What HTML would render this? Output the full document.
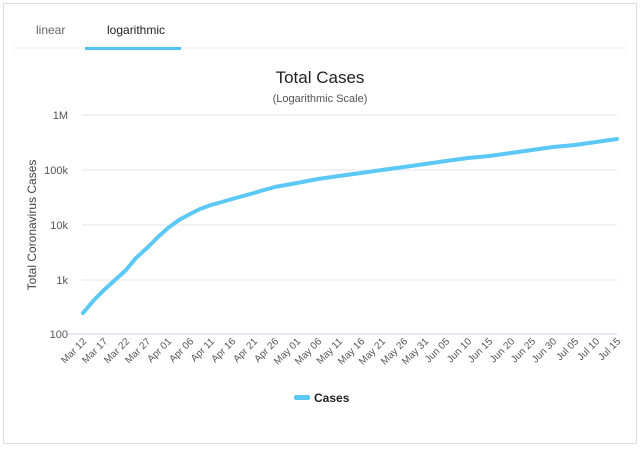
<!DOCTYPE html>
<html><head><style>
body{margin:0;background:#fff;font-family:"Liberation Sans","DejaVu Sans",sans-serif;}
</style></head><body>
<svg width="640" height="448" xmlns="http://www.w3.org/2000/svg" font-family="Liberation Sans, DejaVu Sans, sans-serif">
<rect x="3.5" y="3.5" width="633" height="440" fill="#fff" stroke="#ddd" stroke-width="1"/>
<text x="36" y="34" font-size="12" fill="#666">linear</text>
<text x="107" y="34" font-size="12" fill="#222">logarithmic</text>
<line x1="13" y1="48" x2="627" y2="48" stroke="#eee"/>
<rect x="85" y="47" width="96" height="3" fill="#4fc3f7"/>
<text x="320" y="83" font-size="17" text-anchor="middle" fill="#222">Total Cases</text>
<text x="320" y="102" font-size="11" text-anchor="middle" fill="#555">(Logarithmic Scale)</text>
<g stroke="#e6e6e6"><line x1="82" y1="115" x2="617" y2="115"/><line x1="82" y1="170" x2="617" y2="170"/><line x1="82" y1="225" x2="617" y2="225"/><line x1="82" y1="280" x2="617" y2="280"/></g>
<line x1="67" y1="334" x2="617" y2="334" stroke="#ccd6eb"/>
<g font-size="11" fill="#555" text-anchor="end"><text x="68" y="119">1M</text><text x="68" y="174">100k</text><text x="68" y="229">10k</text><text x="68" y="284">1k</text><text x="68" y="338">100</text></g>
<text transform="translate(36,225) rotate(-90)" font-size="12" fill="#444" text-anchor="middle">Total Coronavirus Cases</text>
<g font-size="10" fill="#555" text-anchor="end" id="xl"></g>
<polyline fill="none" stroke="#5bc8f5" stroke-width="4" stroke-linejoin="round" stroke-linecap="round" points="83,313 94,300 104,290 115,280 126,270 136,258 147,248 158,237 168,228 179,220 190,214 200,209 211,205 222,202 232,199 243,196 254,193 264,190 275,187 286,185 297,183 318,179 339,176 361,173 382,170 404,167 425,164 446,161 468,158 489,156 511,153 532,150 553,147 575,145 596,142 617,139"/>
<rect x="294" y="395" width="16" height="5" rx="2" fill="#5bc8f5"/>
<text x="314" y="402" font-size="12" font-weight="bold" fill="#222">Cases</text>
<g font-size="10" fill="#555" text-anchor="end">
<text transform="translate(87,342) rotate(-45)">Mar 12</text>
<text transform="translate(108,342) rotate(-45)">Mar 17</text>
<text transform="translate(130,342) rotate(-45)">Mar 22</text>
<text transform="translate(151,342) rotate(-45)">Mar 27</text>
<text transform="translate(172,342) rotate(-45)">Apr 01</text>
<text transform="translate(194,342) rotate(-45)">Apr 06</text>
<text transform="translate(215,342) rotate(-45)">Apr 11</text>
<text transform="translate(236,342) rotate(-45)">Apr 16</text>
<text transform="translate(258,342) rotate(-45)">Apr 21</text>
<text transform="translate(279,342) rotate(-45)">Apr 26</text>
<text transform="translate(301,342) rotate(-45)">May 01</text>
<text transform="translate(322,342) rotate(-45)">May 06</text>
<text transform="translate(343,342) rotate(-45)">May 11</text>
<text transform="translate(365,342) rotate(-45)">May 16</text>
<text transform="translate(386,342) rotate(-45)">May 21</text>
<text transform="translate(408,342) rotate(-45)">May 26</text>
<text transform="translate(429,342) rotate(-45)">May 31</text>
<text transform="translate(450,342) rotate(-45)">Jun 05</text>
<text transform="translate(472,342) rotate(-45)">Jun 10</text>
<text transform="translate(493,342) rotate(-45)">Jun 15</text>
<text transform="translate(515,342) rotate(-45)">Jun 20</text>
<text transform="translate(536,342) rotate(-45)">Jun 25</text>
<text transform="translate(557,342) rotate(-45)">Jun 30</text>
<text transform="translate(579,342) rotate(-45)">Jul 05</text>
<text transform="translate(600,342) rotate(-45)">Jul 10</text>
<text transform="translate(621,342) rotate(-45)">Jul 15</text>
</g>
</svg>
</body></html>
